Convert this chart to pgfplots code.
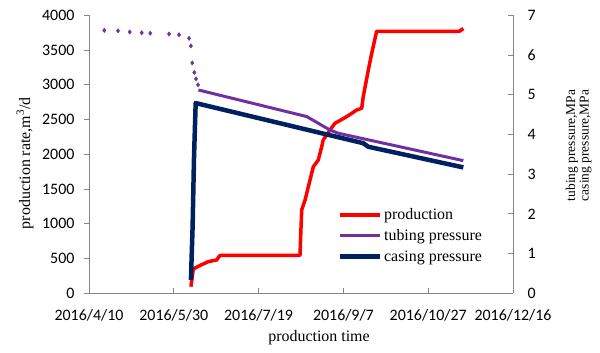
\documentclass[border=0pt]{standalone}
\usepackage{pgfplots}
\pgfplotsset{compat=1.18}
\usepackage{fontspec}
\setmainfont{Liberation Serif}
\newfontfamily\calibri{Carlito}
\definecolor{prodred}{RGB}{255,0,0}
\definecolor{tubpur}{RGB}{112,48,160}
\definecolor{casnavy}{RGB}{0,32,96}
\definecolor{axgray}{RGB}{134,134,134}
\begin{document}
\begin{tikzpicture}
\begin{axis}[
  scale only axis, width=424bp, height=278bp,
  xmin=0, xmax=250, ymin=0, ymax=4000,
  axis x line*=bottom, axis y line*=left,
  axis line style={axgray, line width=0.8pt, -},
  tick align=inside, major tick length=5bp,
  every tick/.style={axgray, line width=0.8pt},
  ytick style={xshift=-5bp},
  xtick={0,50,...,250},
  xticklabels={2016/4/10,2016/5/30,2016/7/19,2016/9/7,2016/10/27,2016/12/16},
  ytick={0,500,...,4000},
  /pgf/number format/assume math mode=true,
  /pgf/number format/1000 sep={},
  ticklabel style={font=\calibri\fontsize{16}{18}\selectfont, text=black},
  xticklabel style={yshift=-13bp},
  yticklabel={\pgfmathprintnumber{\tick}\hspace*{11bp}},
  xlabel={production time},
  xlabel style={at={(rel axis cs:0.5425,-0.161)}, anchor=center, font=\fontsize{16}{18}\selectfont},
  ylabel={production rate,m\textsuperscript{3}/d},
  ylabel style={at={(rel axis cs:-0.151,0.468)}, anchor=center, font=\fontsize{16}{18}\selectfont},
  clip=false,
]
\addplot[prodred, line width=3.5bp, line join=round] coordinates {
(60.1,95) (61.5,350) (65.4,400) (70.3,455) (75.3,480) (77.2,545)
(124.4,545) (125.4,1199) (127.4,1342) (131.3,1727) (132.3,1822) (135.2,1918)
(137.2,2109) (138.1,2206) (142.1,2350) (145.0,2446) (151.9,2541) (157.8,2637)
(160.8,2662) (161.7,2829) (164.7,3213) (166.7,3453) (169.6,3770)
(218.4,3770) (220.7,3810)
};
\end{axis}
\begin{axis}[
  scale only axis, width=424bp, height=278bp,
  xmin=0, xmax=250, ymin=0, ymax=7,
  axis x line=none, axis y line*=right,
  axis line style={axgray, line width=0.8pt, -},
  tick align=inside, major tick length=5bp,
  every tick/.style={axgray, line width=0.8pt},
  ytick={0,1,...,7},
  /pgf/number format/assume math mode=true,
  ticklabel style={font=\calibri\fontsize{16}{18}\selectfont, text=black},
  yticklabel={\hspace*{11bp}\pgfmathprintnumber{\tick}},
  ylabel={tubing pressure,MPa\\casing pressure,MPa},
  ylabel style={at={(rel axis cs:1.155,0.532)}, anchor=center, align=center, font=\fontsize{13.5}{13.5}\selectfont},
  legend style={at={(rel axis cs:0.58,0.318)}, anchor=north west, draw=none, fill=none,
    font=\fontsize{16}{18}\selectfont, row sep=5.5bp, nodes={inner sep=1.5bp}},
  legend cell align=left,
  legend image code/.code={\draw[#1] (0bp,0bp) -- (40bp,0bp);},
  clip=false,
]
\addlegendimage{prodred, line width=3.5bp}
\addlegendentry{production}
\addplot[tubpur, line width=3bp, line join=round] coordinates {
(64.5,5.12) (128.4,4.45) (142.1,4.11) (147.0,4.03) (220.7,3.34)
};
\addlegendentry{tubing pressure}
\addplot[casnavy, line width=4.5bp, line join=round] coordinates {
(60.1,0.34) (61.1,1.70) (61.9,3.40) (62.9,4.79) (161.7,3.78) (164.7,3.69) (220.7,3.17)
};
\addlegendentry{casing pressure}
\addplot[only marks, mark=diamond*, mark size=2.2bp, tubpur, forget plot] coordinates {
(9.0,6.62) (17.1,6.61) (24.0,6.58) (31.1,6.56) (36.1,6.55) (47.2,6.53) (53.1,6.51)
(59.0,6.42) (60.1,6.23) (60.9,5.80) (62.1,5.56) (63.1,5.40) (64.3,5.25)
};
\end{axis}
\pgfresetboundingbox
\useasboundingbox (-89bp,-59.7bp) rectangle (511bp,293.3bp);
\end{tikzpicture}
\end{document}
